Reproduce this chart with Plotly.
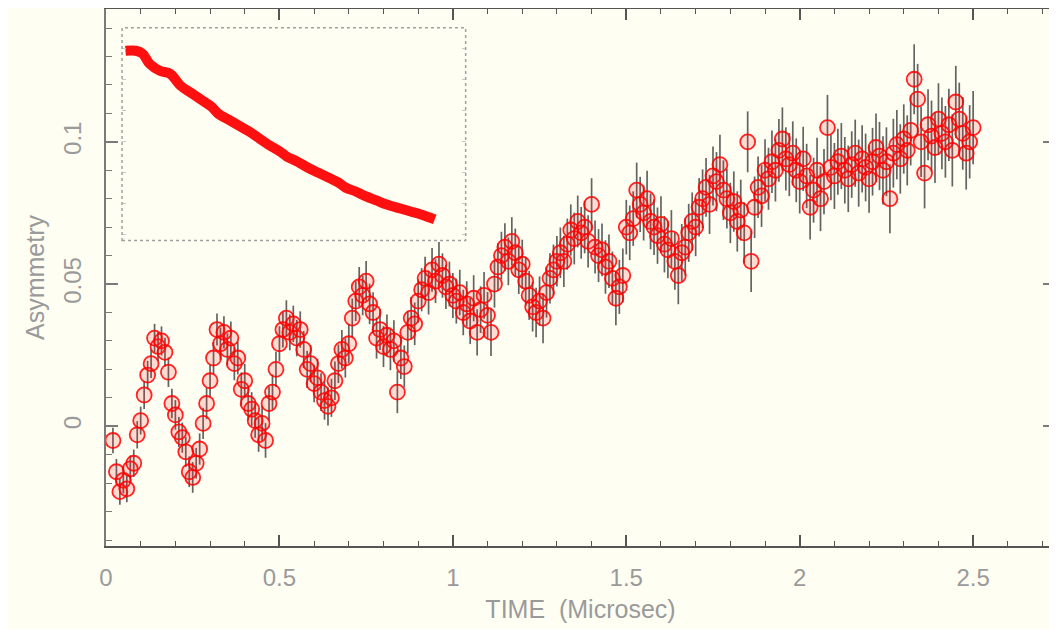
import plotly.graph_objects as go

# ---------------- data ----------------
time_us = [
    0.02, 0.03, 0.04, 0.05, 0.06, 0.07, 0.08, 0.09, 0.10, 0.11,
    0.12, 0.13, 0.14, 0.15, 0.16, 0.17, 0.18, 0.19, 0.20, 0.21,
    0.22, 0.23, 0.24, 0.25, 0.26, 0.27, 0.28, 0.29, 0.30, 0.31,
    0.32, 0.33, 0.34, 0.35, 0.36, 0.37, 0.38, 0.39, 0.40, 0.41,
    0.42, 0.43, 0.44, 0.45, 0.46, 0.47, 0.48, 0.49, 0.50, 0.51,
    0.52, 0.53, 0.54, 0.55, 0.56, 0.57, 0.58, 0.59, 0.60, 0.61,
    0.62, 0.63, 0.64, 0.65, 0.66, 0.67, 0.68, 0.69, 0.70, 0.71,
    0.72, 0.73, 0.74, 0.75, 0.76, 0.77, 0.78, 0.79, 0.80, 0.81,
    0.82, 0.83, 0.84, 0.85, 0.86, 0.87, 0.88, 0.89, 0.90, 0.91,
    0.92, 0.93, 0.94, 0.95, 0.96, 0.97, 0.98, 0.99, 1.00, 1.01,
    1.02, 1.03, 1.04, 1.05, 1.06, 1.07, 1.08, 1.09, 1.10, 1.11,
    1.12, 1.13, 1.14, 1.15, 1.16, 1.17, 1.18, 1.19, 1.20, 1.21,
    1.22, 1.23, 1.24, 1.25, 1.26, 1.27, 1.28, 1.29, 1.30, 1.31,
    1.32, 1.33, 1.34, 1.35, 1.36, 1.37, 1.38, 1.39, 1.40, 1.41,
    1.42, 1.43, 1.44, 1.45, 1.46, 1.47, 1.48, 1.49, 1.50, 1.51,
    1.52, 1.53, 1.54, 1.55, 1.56, 1.57, 1.58, 1.59, 1.60, 1.61,
    1.62, 1.63, 1.64, 1.65, 1.66, 1.67, 1.68, 1.69, 1.70, 1.71,
    1.72, 1.73, 1.74, 1.75, 1.76, 1.77, 1.78, 1.79, 1.80, 1.81,
    1.82, 1.83, 1.84, 1.85, 1.86, 1.87, 1.88, 1.89, 1.90, 1.91,
    1.92, 1.93, 1.94, 1.95, 1.96, 1.97, 1.98, 1.99, 2.00, 2.01,
    2.02, 2.03, 2.04, 2.05, 2.06, 2.07, 2.08, 2.09, 2.10, 2.11,
    2.12, 2.13, 2.14, 2.15, 2.16, 2.17, 2.18, 2.19, 2.20, 2.21,
    2.22, 2.23, 2.24, 2.25, 2.26, 2.27, 2.28, 2.29, 2.30, 2.31,
    2.32, 2.33, 2.34, 2.35, 2.36, 2.37, 2.38, 2.39, 2.40, 2.41,
    2.42, 2.43, 2.44, 2.45, 2.46, 2.47, 2.48, 2.49, 2.50,
]

asymmetry = [
    -0.005, -0.016, -0.023, -0.019, -0.022, -0.015, -0.013, -0.003, 0.002, 0.011,
    0.018, 0.022, 0.031, 0.028, 0.030, 0.026, 0.019, 0.008, 0.004, -0.002,
    -0.004, -0.009, -0.016, -0.018, -0.013, -0.008, 0.001, 0.008, 0.016, 0.024,
    0.034, 0.029, 0.033, 0.027, 0.031, 0.022, 0.024, 0.013, 0.016, 0.008,
    0.006, 0.002, -0.003, 0.001, -0.005, 0.008, 0.012, 0.020, 0.029, 0.034,
    0.038, 0.033, 0.036, 0.031, 0.034, 0.027, 0.020, 0.022, 0.015, 0.017,
    0.012, 0.009, 0.007, 0.010, 0.016, 0.022, 0.027, 0.024, 0.029, 0.038,
    0.044, 0.049, 0.046, 0.051, 0.043, 0.040, 0.031, 0.034, 0.028, 0.032,
    0.027, 0.030, 0.012, 0.024, 0.021, 0.033, 0.038, 0.036, 0.044, 0.048,
    0.052, 0.047, 0.055, 0.051, 0.057, 0.053, 0.049, 0.050, 0.046, 0.044,
    0.047, 0.040, 0.043, 0.037, 0.045, 0.033, 0.041, 0.046, 0.039, 0.033,
    0.050, 0.056, 0.060, 0.063, 0.058, 0.065, 0.061, 0.055, 0.057, 0.051,
    0.046, 0.042, 0.040, 0.044, 0.038, 0.047, 0.052, 0.055, 0.058, 0.061,
    0.058, 0.064, 0.069, 0.066, 0.072, 0.068, 0.070, 0.065, 0.078, 0.063,
    0.060, 0.062, 0.056, 0.058, 0.052, 0.045, 0.049, 0.053, 0.070, 0.068,
    0.073, 0.083, 0.078, 0.075, 0.080, 0.072, 0.070, 0.067, 0.071, 0.064,
    0.062, 0.066, 0.058, 0.053, 0.061, 0.063, 0.068, 0.072, 0.070, 0.077,
    0.080, 0.084, 0.078, 0.088, 0.086, 0.092, 0.083, 0.080, 0.075, 0.079,
    0.072, 0.076, 0.068, 0.100, 0.058, 0.077, 0.084, 0.081, 0.090, 0.087,
    0.093, 0.090, 0.097, 0.101, 0.094, 0.092, 0.096, 0.090, 0.086, 0.094,
    0.088, 0.077, 0.083, 0.090, 0.080, 0.086, 0.105, 0.091, 0.088, 0.093,
    0.095, 0.090, 0.087, 0.092, 0.096, 0.089, 0.094, 0.091, 0.087, 0.093,
    0.098, 0.095, 0.090, 0.093, 0.080, 0.096, 0.099, 0.094, 0.101, 0.097,
    0.104, 0.122, 0.115, 0.100, 0.089, 0.106, 0.102, 0.098, 0.108, 0.103,
    0.100, 0.106, 0.097, 0.114, 0.108, 0.103, 0.096, 0.100, 0.105,
]

asym_err = [
    0.0045, 0.0045, 0.0046, 0.0046, 0.0047, 0.0047, 0.0048, 0.0048, 0.0049, 0.0049,
    0.0050, 0.0050, 0.0050, 0.0051, 0.0051, 0.0051, 0.0052, 0.0052, 0.0052, 0.0053,
    0.0053, 0.0053, 0.0054, 0.0054, 0.0054, 0.0055, 0.0055, 0.0055, 0.0056, 0.0056,
    0.0056, 0.0057, 0.0057, 0.0057, 0.0058, 0.0058, 0.0058, 0.0059, 0.0059, 0.0059,
    0.0060, 0.0060, 0.0060, 0.0061, 0.0061, 0.0061, 0.0062, 0.0062, 0.0062, 0.0063,
    0.0063, 0.0063, 0.0064, 0.0064, 0.0064, 0.0065, 0.0065, 0.0065, 0.0066, 0.0066,
    0.0066, 0.0067, 0.0067, 0.0067, 0.0068, 0.0068, 0.0068, 0.0069, 0.0069, 0.0069,
    0.0070, 0.0070, 0.0070, 0.0071, 0.0071, 0.0071, 0.0072, 0.0072, 0.0072, 0.0073,
    0.0073, 0.0073, 0.0074, 0.0074, 0.0074, 0.0075, 0.0075, 0.0075, 0.0076, 0.0076,
    0.0076, 0.0077, 0.0077, 0.0077, 0.0078, 0.0078, 0.0078, 0.0079, 0.0079, 0.0079,
    0.0080, 0.0080, 0.0080, 0.0081, 0.0081, 0.0081, 0.0082, 0.0082, 0.0082, 0.0083,
    0.0083, 0.0083, 0.0084, 0.0084, 0.0084, 0.0085, 0.0085, 0.0085, 0.0086, 0.0086,
    0.0086, 0.0087, 0.0087, 0.0087, 0.0088, 0.0088, 0.0088, 0.0089, 0.0089, 0.0089,
    0.0090, 0.0090, 0.0090, 0.0091, 0.0091, 0.0091, 0.0092, 0.0092, 0.0092, 0.0093,
    0.0093, 0.0093, 0.0094, 0.0094, 0.0094, 0.0095, 0.0095, 0.0095, 0.0096, 0.0096,
    0.0096, 0.0097, 0.0097, 0.0097, 0.0098, 0.0098, 0.0098, 0.0099, 0.0099, 0.0099,
    0.0100, 0.0100, 0.0100, 0.0101, 0.0101, 0.0101, 0.0102, 0.0102, 0.0102, 0.0103,
    0.0103, 0.0103, 0.0104, 0.0104, 0.0104, 0.0105, 0.0105, 0.0105, 0.0106, 0.0106,
    0.0106, 0.0107, 0.0107, 0.0107, 0.0108, 0.0108, 0.0108, 0.0109, 0.0109, 0.0109,
    0.0110, 0.0110, 0.0110, 0.0111, 0.0111, 0.0111, 0.0112, 0.0112, 0.0112, 0.0113,
    0.0113, 0.0113, 0.0114, 0.0114, 0.0114, 0.0115, 0.0115, 0.0115, 0.0116, 0.0116,
    0.0116, 0.0117, 0.0117, 0.0117, 0.0118, 0.0118, 0.0118, 0.0119, 0.0119, 0.0119,
    0.0120, 0.0120, 0.0120, 0.0121, 0.0121, 0.0121, 0.0122, 0.0122, 0.0122, 0.0123,
    0.0123, 0.0123, 0.0124, 0.0124, 0.0124, 0.0125, 0.0125, 0.0125, 0.0126, 0.0126,
    0.0126, 0.0127, 0.0127, 0.0127, 0.0128, 0.0128, 0.0128, 0.0129, 0.0129,
]

# inset curve (normalised inset units)
inset_t = [0.01, 0.04, 0.06, 0.08, 0.11, 0.14, 0.17, 0.20, 0.23, 0.26,
           0.28, 0.31, 0.34, 0.37, 0.40, 0.43, 0.46, 0.48, 0.51, 0.54,
           0.57, 0.60, 0.63, 0.65, 0.68, 0.71, 0.74, 0.77, 0.81, 0.84,
           0.87, 0.91]
inset_y = [0.892, 0.892, 0.878, 0.831, 0.798, 0.784, 0.728, 0.695, 0.662, 0.629,
           0.596, 0.568, 0.540, 0.512, 0.479, 0.446, 0.418, 0.394, 0.371, 0.343,
           0.319, 0.296, 0.272, 0.249, 0.230, 0.207, 0.188, 0.169, 0.150, 0.136,
           0.122, 0.099]

x_tickvals = [0, 0.5, 1, 1.5, 2, 2.5]
x_ticktext = ["0", "0.5", "1", "1.5", "2", "2.5"]
y_tickvals = [0, 0.05, 0.1]
y_ticktext = ["0", "0.05", "0.1"]

# ---------------- styling ----------------
BG = "#fffef3"
AXIS = "#555555"
YAXIS = "#7a7a7a"
LABEL = "#9a9a9a"
FONT = "Liberation Sans, Arial, sans-serif"

fig = go.Figure()

fig.add_trace(go.Scatter(
    x=time_us, y=asymmetry,
    mode="markers",
    marker=dict(symbol="circle", size=15, color="rgba(255,40,40,0.16)",
                line=dict(width=1.8, color="rgba(255,0,0,0.85)")),
    error_y=dict(type="data", array=asym_err, visible=True,
                 color="rgba(60,60,60,0.8)", thickness=1.7, width=0),
    showlegend=False, xaxis="x", yaxis="y",
))

fig.add_trace(go.Scatter(
    x=inset_t, y=inset_y, mode="lines",
    line=dict(color="#ff1010", width=10, shape="spline"),
    showlegend=False, xaxis="x2", yaxis="y2",
))

axis_common = dict(
    showgrid=False, zeroline=False, showline=True, linewidth=2,
    mirror="allticks", ticks="inside", tickwidth=1.5,
    tickfont=dict(family=FONT, size=24, color=LABEL), automargin=False,
)

fig.update_layout(
    width=1049, height=629,
    margin=dict(l=98, r=2, t=1, b=91),
    paper_bgcolor=BG, plot_bgcolor=BG,
    font=dict(family=FONT, color=LABEL),
    xaxis=dict(
        **axis_common, linecolor=AXIS, tickcolor=AXIS,
        range=[0, 2.736], tickvals=x_tickvals, ticktext=x_ticktext, ticklen=11,
        minor=dict(ticks="inside", ticklen=5, dtick=0.1, tick0=0, tickcolor=AXIS, tickwidth=1.2),
        title=dict(text="TIME  (Microsec)", font=dict(family=FONT, size=25, color=LABEL), standoff=11),
        ticklabelstandoff=9,
    ),
    yaxis=dict(
        **axis_common, linecolor=YAXIS, tickcolor=YAXIS,
        range=[-0.0421, 0.1467], tickvals=y_tickvals, ticktext=y_ticktext, ticklen=12,
        tickangle=-90,
        minor=dict(ticks="inside", ticklen=6, dtick=0.01, tick0=0, tickcolor=YAXIS, tickwidth=1.2),
        title=dict(text="Asymmetry", font=dict(family=FONT, size=25, color=LABEL), standoff=8),
        ticklabelstandoff=13,
    ),
    xaxis2=dict(domain=[0.0169, 0.379], anchor="y2", range=[0, 1],
                showgrid=False, zeroline=False, showline=False,
                showticklabels=False, ticks="", automargin=False),
    yaxis2=dict(domain=[0.569, 0.965], anchor="x2", range=[0, 1],
                showgrid=False, zeroline=False, showline=False,
                showticklabels=False, ticks="inside", ticklen=4, automargin=False,
                tickcolor="#c8c8c8", mirror="ticks", tick0=0.174, dtick=0.1455),
    shapes=[dict(type="rect", xref="x2 domain", yref="y2 domain",
                 x0=0, x1=1, y0=0, y1=1,
                 line=dict(color="#a0a0a0", width=1.5, dash="dot"))],
)

fig.write_html("out.html")
